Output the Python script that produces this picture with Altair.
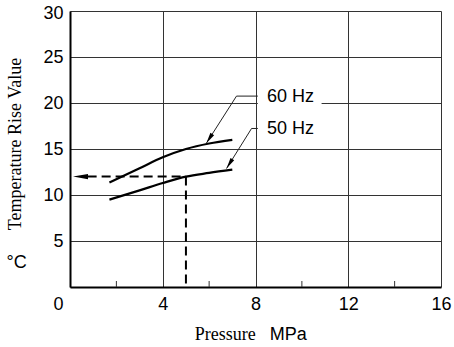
import math
import altair as alt
import pandas as pd

# Temperature rise curves (pressure in MPa, rise in °C)
pressure_60hz = [1.7, 3.0, 4.0, 5.0, 6.0, 7.0]
rise_60hz = [11.35, 12.9, 14.1, 15.0, 15.6, 16.0]
pressure_50hz = [1.7, 3.0, 4.0, 5.0, 6.0, 7.0]
rise_50hz = [9.5, 10.5, 11.3, 12.0, 12.4, 12.75]

# Worked example: read the rise at 5 MPa on the 50 Hz curve
example_pressure = 5.0
example_rise = 12.0

# Callout labels: text anchor, elbow of the leader, arrow tip on the curve
callout_names = ["60 Hz", "50 Hz"]
callout_text_x = [8.5, 8.5]
callout_text_y = [20.67, 17.12]
callout_line_y = [20.75, 17.23]
callout_start_x = [8.1, 8.1]
callout_elbow_x = [7.18, 7.83]
callout_tip_x = [5.88, 6.75]
callout_tip_y = [15.62, 12.88]

x_ticks = [0, 4, 8, 12, 16]
y_ticks = [5, 10, 15, 20, 25, 30]
minor_x_ticks = [2, 6, 10, 14]

W, H = 371, 276
X_MAX, Y_MAX = 16, 30
SANS = "Liberation Sans"
SERIF = "Liberation Serif"
GRID = "#333333"

x_scale = alt.Scale(domain=[0, X_MAX], nice=False, zero=False)
y_scale = alt.Scale(domain=[0, Y_MAX], nice=False, zero=False)

x_axis = alt.Axis(
    values=x_ticks, grid=True, gridColor=GRID, gridWidth=1,
    domain=True, domainColor="black", domainWidth=2, ticks=False,
    labelFont=SANS, labelFontSize=18, labelColor="black", labelPadding=8,
    labelAlign={"condition": {"test": "datum.value === 0", "value": "right"}, "value": "center"},
    labelOffset={"condition": {"test": "datum.value === 0", "value": -7}, "value": 0},
    title=None,
)
y_axis = alt.Axis(
    values=y_ticks, grid=True, gridColor=GRID, gridWidth=1,
    domain=True, domainColor="black", domainWidth=2, ticks=False,
    labelFont=SANS, labelFontSize=18, labelColor="black", labelPadding=7,
    labelOffset={"condition": {"test": "datum.value === 30", "value": 2}, "value": 0},
    title=None,
)


def X(field):
    return alt.X(f"{field}:Q", scale=x_scale, axis=x_axis)


def Y(field):
    return alt.Y(f"{field}:Q", scale=y_scale, axis=y_axis)


curves = pd.DataFrame({
    "x": pressure_60hz + pressure_50hz,
    "y": rise_60hz + rise_50hz,
    "series": ["60 Hz"] * len(pressure_60hz) + ["50 Hz"] * len(pressure_50hz),
})

curve_layer = alt.Chart(curves).mark_line(
    color="black", strokeWidth=2.2, interpolate="monotone"
).encode(x=X("x"), y=Y("y"), detail="series:N")

# Small inward ticks at the odd-numbered positions on the pressure axis
minor_layer = alt.Chart(pd.DataFrame({"x": minor_x_ticks})).mark_rule(
    color=GRID, strokeWidth=1
).encode(x=X("x"), y=alt.value(H), y2=alt.value(H - 6))

# Dashed read-off lines for the worked example
arrow_body_x = 0.76
dash_h = pd.DataFrame({"x": [arrow_body_x], "x2": [example_pressure], "y": [example_rise]})
dash_h_layer = alt.Chart(dash_h).mark_rule(
    color="black", strokeWidth=2, strokeDash=[9, 5]
).encode(x=X("x"), x2="x2:Q", y=Y("y"))

dash_v = pd.DataFrame({"x": [example_pressure], "y": [example_rise], "y2": [0]})
dash_v_layer = alt.Chart(dash_v).mark_rule(
    color="black", strokeWidth=2, strokeDash=[9, 5]
).encode(x=X("x"), y=Y("y"), y2="y2:Q")

# Arrowhead at the rise axis (tip at the symbol origin, body to the right)
big_head = "M0,0 L2,-0.35 L2,0.35 Z"
head_layer = alt.Chart(pd.DataFrame({"x": [0.13], "y": [example_rise]})).mark_point(
    shape=big_head, filled=True, color="black", size=225, angle=0, opacity=1
).encode(x=X("x"), y=Y("y"))

# White box behind the upper callout so the grid line breaks around it
box = pd.DataFrame({"x": [8.1], "x2": [10.85], "y": [19.6], "y2": [21.7]})
box_layer = alt.Chart(box).mark_rect(color="white").encode(
    x=X("x"), x2="x2:Q", y=Y("y"), y2="y2:Q"
)

# Leader lines
leader_rows = []
for i, name in enumerate(callout_names):
    leader_rows.append({"name": name, "k": 0, "x": callout_start_x[i], "y": callout_line_y[i]})
    leader_rows.append({"name": name, "k": 1, "x": callout_elbow_x[i], "y": callout_line_y[i]})
    leader_rows.append({"name": name, "k": 2, "x": callout_tip_x[i], "y": callout_tip_y[i]})
leader_layer = alt.Chart(pd.DataFrame(leader_rows)).mark_line(
    color="#222222", strokeWidth=1
).encode(x=X("x"), y=Y("y"), order="k:Q", detail="name:N")

# Leader arrowheads, rotated to point along the diagonal segment
px_x = W / X_MAX
px_y = H / Y_MAX
tip_rows = []
for i, name in enumerate(callout_names):
    dx = (callout_elbow_x[i] - callout_tip_x[i]) * px_x
    dy = -(callout_line_y[i] - callout_tip_y[i]) * px_y
    ang = math.degrees(math.atan2(dy, dx)) % 360
    tip_rows.append({"name": name, "x": callout_tip_x[i], "y": callout_tip_y[i], "a": ang})
small_head = "M0,0 L2,-0.4 L2,0.4 Z"
tip_layer = alt.Chart(pd.DataFrame(tip_rows)).mark_point(
    shape=small_head, filled=True, color="black", size=121, opacity=1
).encode(x=X("x"), y=Y("y"), angle=alt.Angle("a:Q", scale=None))

callout_df = pd.DataFrame({"name": callout_names, "x": callout_text_x, "y": callout_text_y})
callout_layer = alt.Chart(callout_df).mark_text(
    font=SANS, fontSize=18, color="black", align="left", baseline="middle"
).encode(x=X("x"), y=Y("y"), text="name:N")


# Axis titles (serif words with sans-serif units)
def title_text(txt, x, y, font, angle=0, align="left"):
    return alt.Chart(pd.DataFrame({"t": [txt]})).mark_text(
        font=font, fontSize=18, color="black", align=align,
        baseline="alphabetic", angle=angle
    ).encode(x=alt.value(x), y=alt.value(y), text="t:N")


y_title = title_text("Temperature Rise Value", -48.8, 133, SERIF, angle=270, align="center")
y_unit = title_text("°C", -63.5, 256.5, SANS)
x_title = title_text("Pressure", 124.7, 329, SERIF)
x_unit = title_text("MPa", 199.7, 329, SANS)

chart = alt.layer(
    curve_layer, minor_layer, box_layer, dash_h_layer, dash_v_layer, head_layer,
    leader_layer, tip_layer, callout_layer, y_title, y_unit, x_title, x_unit,
).properties(
    width=W, height=H,
    autosize=alt.AutoSizeParams(type="none"),
    padding={"left": 70, "top": 11, "right": 13, "bottom": 60},
    background="white",
).configure_view(stroke=None)

chart.save("out.html", embed_options={"renderer": "svg", "actions": False})
